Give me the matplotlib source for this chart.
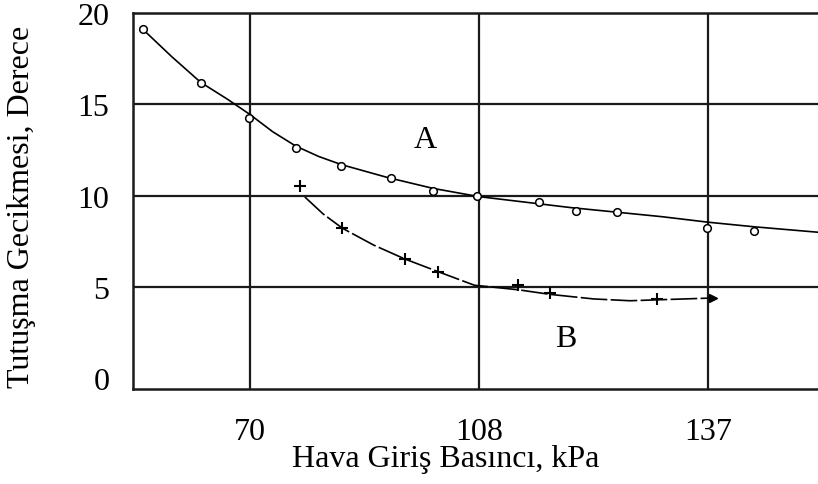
import matplotlib.pyplot as plt

plt.rcParams['font.family'] = ['Liberation Serif', 'DejaVu Serif']

# x values are in psi (grid at 10, 15, 20 psi), labelled in kPa as in the source
tick_psi = [10, 15, 20]
tick_kpa = ['70', '108', '137']
y_ticks = [0, 5, 10, 15, 20]

# curve A - measured points (circles)
a_x = [7.66, 8.93, 9.98, 11.0, 11.99, 13.08, 14.0, 14.95, 16.3, 17.12, 18.02, 19.98, 21.0]
a_y = [19.12, 16.15, 14.24, 12.61, 11.64, 10.95, 10.27, 9.97, 9.64, 9.18, 9.09, 8.21, 8.08]
# curve A - drawn line
a_line_x = [7.66, 8.3, 8.93, 9.5, 10.0, 10.5, 11.0, 11.5, 12.0, 13.0, 14.0, 15.0, 16.0, 17.0, 18.0, 19.0, 20.0, 21.0, 22.4]
a_line_y = [19.12, 17.6, 16.2, 15.3, 14.45, 13.5, 12.72, 12.15, 11.7, 11.0, 10.4, 9.95, 9.65, 9.35, 9.1, 8.85, 8.55, 8.3, 8.0]

# curve B - measured points (plus signs)
b_x = [11.09, 12.02, 13.38, 14.11, 15.86, 16.55, 18.88]
b_y = [10.51, 8.22, 6.54, 5.84, 5.11, 4.67, 4.35]
# curve B - drawn line
b_line_x = [11.2, 11.6, 12.02, 12.7, 13.38, 14.11, 14.9, 15.86, 16.55, 17.5, 18.3, 18.88, 19.5, 20.1]
b_line_y = [9.93, 9.0, 8.22, 7.3, 6.54, 5.84, 5.1, 4.85, 4.6, 4.35, 4.25, 4.3, 4.35, 4.4]

fig = plt.figure(figsize=(8.18, 4.85), dpi=100)
ax = fig.add_axes([0.1626, 0.1959, 0.8374, 0.7752])

# grid
for gx in tick_psi:
    ax.axvline(gx, color='#1a1a1a', lw=1.6, zorder=1)
for gy in y_ticks[1:-1]:
    ax.axhline(gy, color='#1a1a1a', lw=1.6, zorder=1)

# curve A
ax.plot(a_line_x, a_line_y, color='black', lw=1.2, zorder=3)
ax.plot(a_x, a_y, 'o', ms=5.5, mfc='white', mec='black', mew=1.1, zorder=4)

# curve B
ax.plot(b_line_x, b_line_y, color='black', lw=1.2, dashes=(16, 2), zorder=3)
ax.plot(b_x, b_y, '+', ms=8, mec='black', mew=1.5, zorder=4)
ax.plot(b_line_x[-1], b_line_y[-1], '>', ms=6, color='black', zorder=4)

ax.text(13.82, 13.05, 'A', fontsize=23, ha='center', va='center')
ax.text(16.9, 2.16, 'B', fontsize=23, ha='center', va='center')

ax.set_xlim(7.45, 22.4)
ax.set_ylim(-0.58, 20)
ax.set_xticks(tick_psi)
ax.set_xticklabels(tick_kpa)
ax.set_yticks(y_ticks)
ax.tick_params(length=0, labelsize=23)
ax.tick_params(axis='x', pad=20)
ax.tick_params(axis='y', pad=17)

for s in ['left', 'top', 'bottom']:
    ax.spines[s].set_linewidth(1.8)
    ax.spines[s].set_color('#1a1a1a')
ax.spines['right'].set_visible(False)

ax.set_xlabel('Hava Giriş Basıncı, kPa', fontsize=23)
ax.set_ylabel('Tutuşma Gecikmesi, Derece', fontsize=23)
ax.xaxis.set_label_coords(0.457, -0.146)
ax.yaxis.set_label_coords(-0.142, 0.487)

fig.savefig('out.png', dpi=100)
